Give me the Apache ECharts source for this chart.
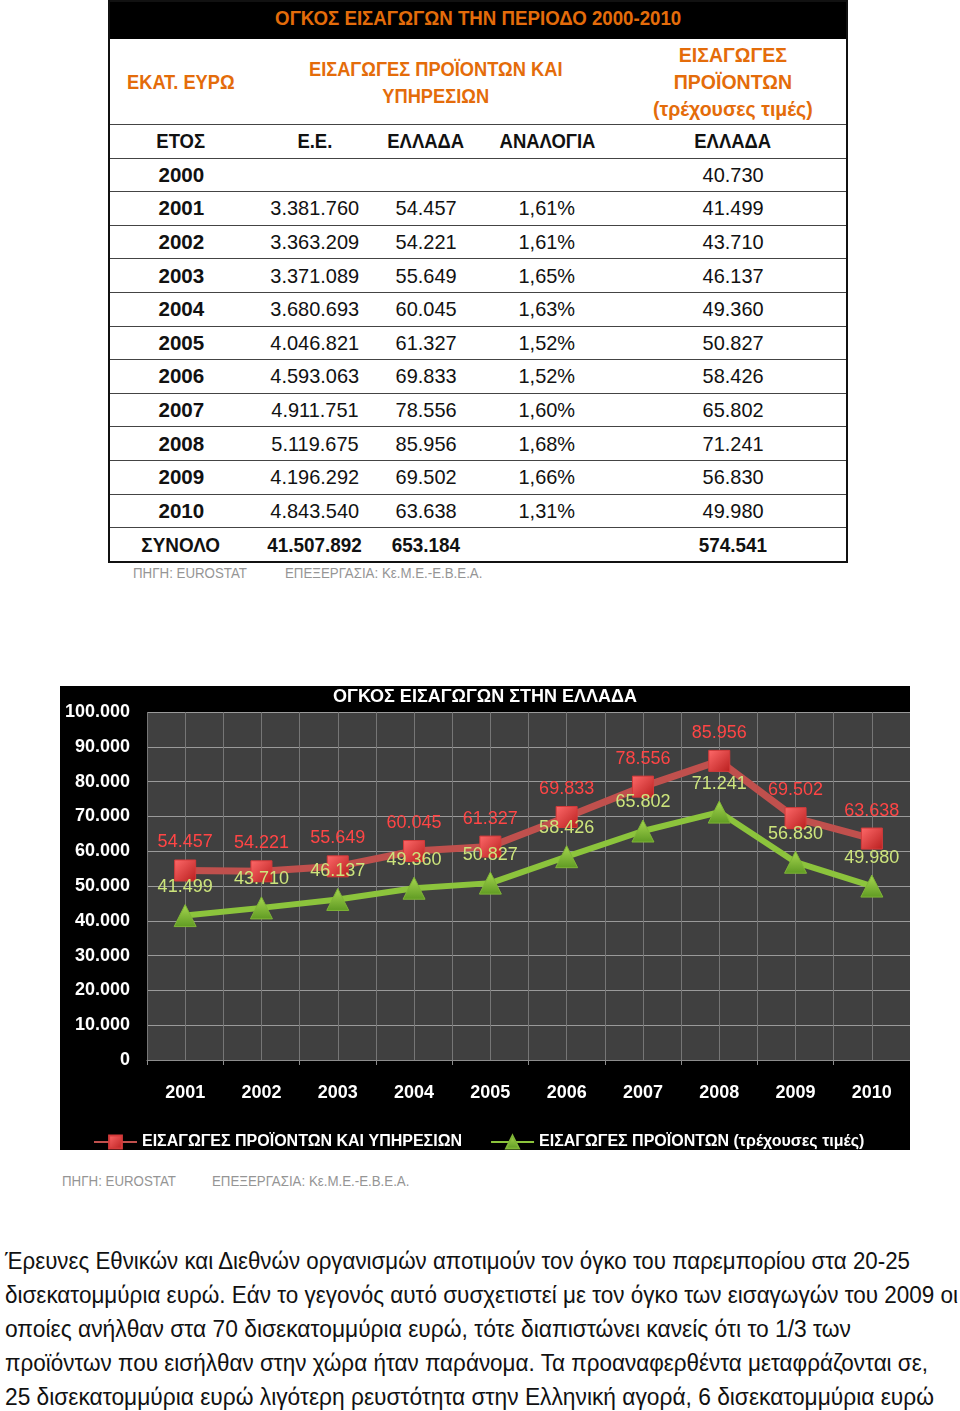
<!DOCTYPE html>
<html>
<head>
<meta charset="utf-8">
<script src="https://cdn.jsdelivr.net/npm/echarts@6/dist/echarts.min.js"></script>
<style>
  html, body { margin:0; padding:0; background:#fff; }
  body { width:960px; height:1411px; position:relative; overflow:hidden;
         font-family:"Liberation Sans",sans-serif; }
  .abs { position:absolute; }
  #tbl { left:108px; top:0px; width:740px; height:563px; border:2px solid #111; box-sizing:border-box; }
  .row { position:absolute; left:0; width:100%; border-bottom:1.5px solid #444; box-sizing:border-box; }
  .cell { position:absolute; top:0; height:100%; display:flex; align-items:center; justify-content:center; text-align:center; font-size:21px; color:#111; white-space:nowrap; box-sizing:border-box; }
  .cell > span { display:inline-block; transform-origin:50% 50%; }
  .orange { color:#e46c0a; font-weight:bold; }
  .b { font-weight:bold; }
  .src { color:#959595; font-size:14px; white-space:nowrap; transform-origin:0 50%; transform:scaleX(0.95); }
  .para { left:5px; font-size:23px; color:#111; white-space:nowrap; line-height:34px; }
  .para > div > span { display:inline-block; transform-origin:0 50%; }
  #chart { left:60px; top:686px; width:850px; height:464px; }
</style>
</head>
<body>
<div id="tbl" class="abs"></div>
<div class="abs src" style="left:133px; top:565px;">ΠΗΓΗ: EUROSTAT</div>
<div class="abs src" style="left:285px; top:565px;">ΕΠΕΞΕΡΓΑΣΙΑ: Κε.Μ.Ε.-Ε.Β.Ε.Α.</div>
<div id="chart" class="abs"></div>
<div class="abs src" style="left:62px; top:1173px;">ΠΗΓΗ: EUROSTAT</div>
<div class="abs src" style="left:212px; top:1173px;">ΕΠΕΞΕΡΓΑΣΙΑ: Κε.Μ.Ε.-Ε.Β.Ε.Α.</div>
<div id="para" class="abs para" style="top:1244px;"></div>
<script>
// ---------- data ----------
const chartTitle = 'ΟΓΚΟΣ ΕΙΣΑΓΩΓΩΝ ΣΤΗΝ ΕΛΛΑΔΑ';
const years = ['2001','2002','2003','2004','2005','2006','2007','2008','2009','2010'];
const seriesTotalName = 'ΕΙΣΑΓΩΓΕΣ ΠΡΟΪΟΝΤΩΝ ΚΑΙ ΥΠΗΡΕΣΙΩΝ';
const seriesGoodsName = 'ΕΙΣΑΓΩΓΕΣ ΠΡΟΪΟΝΤΩΝ (τρέχουσες τιμές)';
const greeceTotal = [54457, 54221, 55649, 60045, 61327, 69833, 78556, 85956, 69502, 63638];
const greeceGoods = [41499, 43710, 46137, 49360, 50827, 58426, 65802, 71241, 56830, 49980];

const tableTitle = 'ΟΓΚΟΣ ΕΙΣΑΓΩΓΩΝ ΤΗΝ ΠΕΡΙΟΔΟ 2000-2010';
const tableYears = ['2000','2001','2002','2003','2004','2005','2006','2007','2008','2009','2010'];
const euImports = [null, 3381760, 3363209, 3371089, 3680693, 4046821, 4593063, 4911751, 5119675, 4196292, 4843540];
const grImports = [null, 54457, 54221, 55649, 60045, 61327, 69833, 78556, 85956, 69502, 63638];
const ratios = ['', '1,61%', '1,61%', '1,65%', '1,63%', '1,52%', '1,52%', '1,60%', '1,68%', '1,66%', '1,31%'];
const grGoods = [40730, 41499, 43710, 46137, 49360, 50827, 58426, 65802, 71241, 56830, 49980];
const totals = ['ΣΥΝΟΛΟ', 41507892, 653184, '', 574541];
const colHeads = ['ΕΤΟΣ', 'Ε.Ε.', 'ΕΛΛΑΔΑ', 'ΑΝΑΛΟΓΙΑ', 'ΕΛΛΑΔΑ'];

const paraLines = [
  'Έρευνες Εθνικών και Διεθνών οργανισμών αποτιμούν τον όγκο του παρεμπορίου στα 20-25',
  'δισεκατομμύρια ευρώ. Εάν το γεγονός αυτό συσχετιστεί με τον όγκο των εισαγωγών του 2009 οι',
  'οποίες ανήλθαν στα 70 δισεκατομμύρια ευρώ, τότε διαπιστώνει κανείς ότι το 1/3 των',
  'προϊόντων που εισήλθαν στην χώρα ήταν παράνομα. Τα προαναφερθέντα μεταφράζονται σε,',
  '25 δισεκατομμύρια ευρώ λιγότερη ρευστότητα στην Ελληνική αγορά, 6 δισεκατομμύρια ευρώ'
];
const paraWidths = [905, 953, 846, 923, 929];

// ---------- helpers ----------
function fmt(v) {
  if (v === null || v === '' || v === undefined) return '';
  if (typeof v === 'string') return v;
  return String(v).replace(/\B(?=(\d{3})+(?!\d))/g, '.');
}

// ---------- table ----------
const tbl = document.getElementById('tbl');
const cols = [[0,142],[142,126],[268,96],[364,146],[510,226]];
function addRow(top, h, cells, bg, noBorder) {
  const r = document.createElement('div');
  r.className = 'row';
  r.style.top = top + 'px'; r.style.height = h + 'px';
  if (bg) r.style.background = bg;
  if (noBorder) r.style.borderBottom = 'none';
  cells.forEach(c => {
    const d = document.createElement('div');
    d.className = 'cell ' + (c.cls || '');
    d.style.left = c.l + 'px'; d.style.width = c.w + 'px';
    if (c.style) d.style.cssText += ';' + c.style;
    const s = document.createElement('span');
    s.innerHTML = c.t;
    s.style.transform = 'scaleX(' + (c.k || 1) + ')';
    d.appendChild(s);
    r.appendChild(d);
  });
  tbl.appendChild(r);
}
addRow(0, 37, [{l:0, w:736, t:tableTitle, cls:'orange', k:0.89, style:'padding-bottom:5px'}], '#000', true);
addRow(37, 86, [
  {l:cols[0][0], w:cols[0][1], t:'ΕΚΑΤ. ΕΥΡΩ', cls:'orange', k:0.87},
  {l:cols[1][0], w:cols[1][1]+cols[2][1]+cols[3][1], t:'ΕΙΣΑΓΩΓΕΣ ΠΡΟΪΟΝΤΩΝ ΚΑΙ<br>ΥΠΗΡΕΣΙΩΝ', cls:'orange', k:0.87, style:'line-height:27px'},
  {l:cols[4][0], w:cols[4][1], t:'ΕΙΣΑΓΩΓΕΣ<br>ΠΡΟΪΟΝΤΩΝ<br>(τρέχουσες τιμές)', cls:'orange', k:0.93, style:'line-height:27px'}
]);
const rh = 33.6;
const y0 = 123;
addRow(y0, rh, colHeads.map((t,i) => ({l:cols[i][0], w:cols[i][1], t:t, cls:'b', k:0.88})));
tableYears.forEach((yr, k) => {
  const vals = [yr, fmt(euImports[k]), fmt(grImports[k]), ratios[k], fmt(grGoods[k])];
  addRow(y0 + rh*(k+1), rh, vals.map((t,i) => ({l:cols[i][0], w:cols[i][1], t:t, cls: i===0 ? 'b' : '', k: i===0 ? 0.98 : 0.95})));
});
addRow(y0 + rh*12, rh, totals.map((t,i) => ({l:cols[i][0], w:cols[i][1], t:fmt(t), cls:'b', k:0.9})), null, true);

// ---------- paragraph ----------
const para = document.getElementById('para');
paraLines.forEach((s, i) => {
  const line = document.createElement('div');
  const sp = document.createElement('span');
  sp.textContent = s;
  line.appendChild(sp);
  para.appendChild(line);
  const w = sp.getBoundingClientRect().width;
  sp.style.transform = 'scaleX(' + (paraWidths[i] / w) + ')';
});

// ---------- chart ----------
const FONT = '"Liberation Sans",sans-serif';
const chart = echarts.init(document.getElementById('chart'), null, {renderer:'canvas'});
chart.setOption({
  backgroundColor: '#000',
  animation: false,
  title: {
    text: chartTitle, left: 'center', top: -3,
    textStyle: {color:'#fff', fontSize:18, fontWeight:'bold', fontFamily: FONT}
  },
  legend: {
    left: 28, top: 443, width: 840, itemWidth: 43, itemHeight: 16, itemGap: 28,
    textStyle: {color:'#fff', fontSize:16, fontWeight:'bold', fontFamily: FONT},
    data: [seriesTotalName, seriesGoodsName]
  },
  grid: {left: 87, right: -8, top: 26, bottom: 90, show: true, backgroundColor: '#404040', borderWidth: 0},
  xAxis: [
    {
      type: 'category', data: years, boundaryGap: true,
      axisLine: {lineStyle: {color:'#8c8c8c', width:1}},
      axisTick: {show:true, length:5, lineStyle:{color:'#8c8c8c'}},
      axisLabel: {color:'#fff', fontWeight:'bold', fontSize:18, margin:24, fontFamily: FONT},
      splitLine: {show:false}
    },
    {
      type: 'value', min: 0, max: 20, interval: 1, position: 'bottom',
      axisLabel: {show:false}, axisLine: {show:false}, axisTick: {show:false},
      splitLine: {show:true, lineStyle:{color:'#767676', width:1}}
    }
  ],
  yAxis: {
    type: 'value', min: 0, max: 100000, interval: 10000,
    axisLine: {show:false}, axisTick: {show:false},
    axisLabel: {color:'#fff', fontWeight:'bold', fontSize:18, margin:17, fontFamily: FONT, formatter: v => fmt(v)},
    splitLine: {lineStyle: {color:'#9a9a9a', width:1}}
  },
  series: [
    {
      name: seriesTotalName, type: 'line', xAxisIndex: 0, data: greeceTotal,
      symbol: 'rect', symbolSize: 21,
      lineStyle: {color:'#c0504d', width:7},
      itemStyle: {color: new echarts.graphic.LinearGradient(0,0,1,1,[{offset:0,color:'#ff6a6a'},{offset:1,color:'#b81e1e'}]), borderColor:'#d43a3a', borderWidth:1},
      label: {show:true, position:'top', distance:8, color:'#ff4545', fontSize:18, fontFamily: FONT, formatter: p => fmt(p.value)},
      z: 2
    },
    {
      name: seriesGoodsName, type: 'line', xAxisIndex: 0, data: greeceGoods,
      symbol: 'triangle', symbolSize: 22,
      lineStyle: {color:'#8cc43c', width:6},
      itemStyle: {color: new echarts.graphic.LinearGradient(0,0,0,1,[{offset:0,color:'#a8d850'},{offset:1,color:'#5f9a23'}]), borderColor:'#7fb536', borderWidth:1},
      label: {show:true, position:'top', distance:8, color:'#cde57c', fontSize:18, fontFamily: FONT, formatter: p => fmt(p.value)},
      z: 3
    }
  ]
});
</script>
</body>
</html>
